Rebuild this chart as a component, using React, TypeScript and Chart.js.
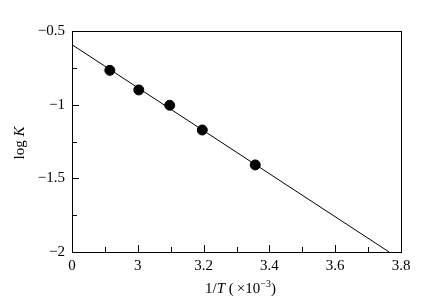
import React, { useEffect, useRef } from "react";
import { Chart, registerables } from "chart.js";
Chart.register(...registerables);

const invT = [2.915, 3.003, 3.097, 3.196, 3.357];
const logK = [-0.767, -0.9, -1.004, -1.172, -1.409];
const fitX = [2.8, 3.764];
const fitY = [-0.593, -2.0];
const xMajorTicks = [2.8, 3.0, 3.2, 3.4, 3.6, 3.8];
const xTickLabels = ["0", "3", "3.2", "3.4", "3.6", "3.8"];
const yMajorTicks = [-0.5, -1, -1.5, -2];
const yTickLabels = ["\u22120.5", "\u22121", "\u22121.5", "\u22122"];

const FONT = "'Liberation Serif', 'Times New Roman', serif";

function findLabel(v: number, majors: number[], labels: string[]) {
  const i = majors.findIndex((m) => Math.abs(m - v) < 1e-6);
  return i >= 0 ? labels[i] : "";
}

const framePlugin = {
  id: "frame",
  afterDraw(chart: any) {
    const ctx = chart.ctx;
    const a = chart.chartArea;
    ctx.save();
    ctx.strokeStyle = "#000";
    ctx.lineWidth = 1;
    ctx.strokeRect(Math.round(a.left) + 0.5, Math.round(a.top) + 0.5, Math.round(a.right - a.left), Math.round(a.bottom - a.top));
    const xs = chart.scales.x;
    ctx.beginPath();
    xs.ticks.forEach((t: any) => {
      const px = Math.round(xs.getPixelForValue(t.value)) + 0.5;
      const major = xMajorTicks.some((m) => Math.abs(m - t.value) < 1e-6);
      const len = major ? 7 : 5;
      ctx.moveTo(px, a.bottom);
      ctx.lineTo(px, a.bottom - len);
    });
    const ys = chart.scales.y;
    ys.ticks.forEach((t: any) => {
      const py = Math.round(ys.getPixelForValue(t.value)) + 0.5;
      const major = yMajorTicks.some((m) => Math.abs(m - t.value) < 1e-6);
      const len = major ? 7 : 5;
      ctx.moveTo(a.left, py);
      ctx.lineTo(a.left + len, py);
    });
    ctx.stroke();

    ctx.fillStyle = "#000";
    ctx.textBaseline = "alphabetic";
    const parts: [string, string][] = [
      ["1/", `15px ${FONT}`],
      ["T", `italic 15px ${FONT}`],
      [" (\u2009\u00d710", `15px ${FONT}`],
      ["\u22123", `10px ${FONT}`],
      [")", `15px ${FONT}`],
    ];
    let total = 0;
    const widths = parts.map(([s, f]) => {
      ctx.font = f;
      const w = ctx.measureText(s).width;
      total += w;
      return w;
    });
    let x = 240.5 - total / 2;
    const yb = 293;
    parts.forEach(([s, f], i) => {
      ctx.font = f;
      const sup = i === 3;
      ctx.fillText(s, x, sup ? yb - 6 : yb);
      x += widths[i];
    });

    ctx.save();
    ctx.translate(24, 143);
    ctx.rotate(-Math.PI / 2);
    const yparts: [string, string][] = [
      ["log ", `15px ${FONT}`],
      ["K", `italic 15px ${FONT}`],
    ];
    let yt = 0;
    const yw = yparts.map(([s, f]) => {
      ctx.font = f;
      const w = ctx.measureText(s).width;
      yt += w;
      return w;
    });
    let xx = -yt / 2;
    yparts.forEach(([s, f], i) => {
      ctx.font = f;
      ctx.fillText(s, xx, 0);
      xx += yw[i];
    });
    ctx.restore();
    ctx.restore();
  },
};

export default function App() {
  const ref = useRef<HTMLCanvasElement>(null);
  useEffect(() => {
    document.body.style.margin = "0";
    const chart = new Chart(ref.current!, {
      type: "scatter",
      data: {
        datasets: [
          {
            type: "line",
            data: fitX.map((x, i) => ({ x, y: fitY[i] })),
            borderColor: "#000",
            borderWidth: 1,
            pointRadius: 0,
            fill: false,
          } as any,
          {
            data: invT.map((x, i) => ({ x, y: logK[i] })),
            backgroundColor: "#000",
            borderColor: "#000",
            pointRadius: 5,
          },
        ],
      },
      options: {
        animation: false,
        responsive: false,
        events: [],
        layout: { padding: { left: 0, right: 21, top: 31, bottom: 0 } },
        plugins: { legend: { display: false }, tooltip: { enabled: false } },
        scales: {
          x: {
            type: "linear",
            min: 2.8,
            max: 3.8,
            border: { display: false },
            grid: { display: false, drawTicks: false },
            ticks: {
              stepSize: 0.1,
              autoSkip: false,
              maxRotation: 0,
              padding: 5,
              color: "#000",
              font: { family: FONT, size: 15 },
              callback: (v: any) => findLabel(Number(v), xMajorTicks, xTickLabels),
            },
            afterFit: (s: any) => {
              s.height = 53;
            },
          },
          y: {
            type: "linear",
            min: -2,
            max: -0.5,
            border: { display: false },
            grid: { display: false, drawTicks: false },
            ticks: {
              stepSize: 0.25,
              autoSkip: false,
              padding: 7,
              color: "#000",
              font: { family: FONT, size: 15 },
              callback: (v: any) => findLabel(Number(v), yMajorTicks, yTickLabels),
            },
            afterFit: (s: any) => {
              s.width = 72;
            },
          },
        },
      },
      plugins: [framePlugin],
    });
    return () => chart.destroy();
  }, []);
  return (
    <div style={{ width: 422, height: 305, background: "#fff" }}>
      <canvas ref={ref} width={422} height={305} />
    </div>
  );
}
